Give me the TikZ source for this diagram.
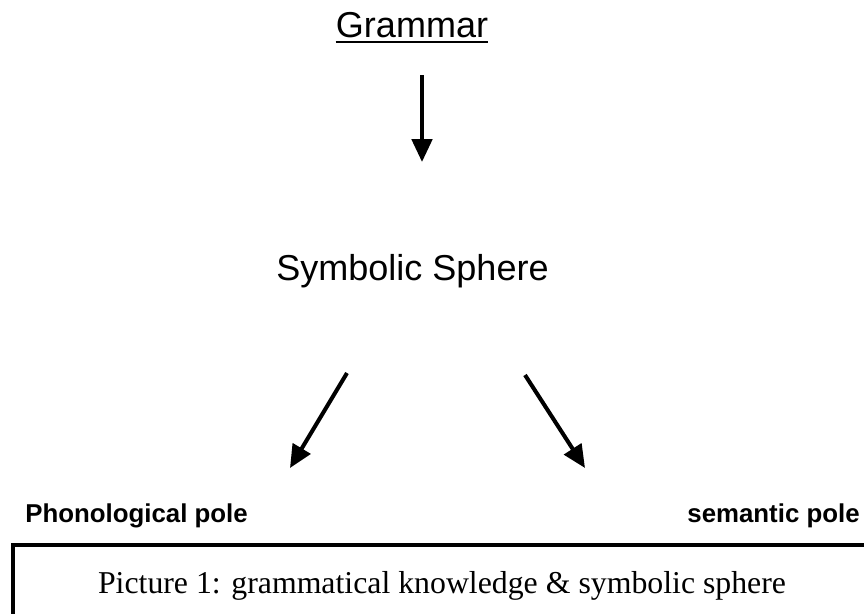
\documentclass[tikz,border=0pt]{standalone}
\usepackage{fontspec}
\setmainfont{Liberation Serif}
\setsansfont{Liberation Sans}
\usetikzlibrary{arrows.meta}

\begin{document}
\begin{tikzpicture}[
        x=0.02cm, y=-0.02cm,
        title/.style={inner sep=0pt, anchor=base, font=\sffamily\fontsize{20.5}{24}\selectfont},
        pole/.style={inner sep=0pt, font=\sffamily\bfseries\fontsize{14.7}{18}\selectfont},
        caption/.style={inner sep=0pt, anchor=base, font=\rmfamily\fontsize{18.1}{22}\selectfont},
        arrow/.style={-{Triangle[length=13pt, width=11.5pt]}, line width=2.3pt},
        frame/.style={draw, line width=2.8pt}
    ]
        \useasboundingbox (0,0) rectangle (864,613);
        \clip (0,0) rectangle (864,613);

        % Top level
        \node[title] (grammar) at (412,37) {Grammar};
        \draw[line width=1.1pt] ([yshift=-2.8pt]grammar.base west) -- ([yshift=-2.8pt]grammar.base east);

        % Middle level
        \node[title] (sphere) at (412.5,280) {Symbolic Sphere};

        % The two poles
        \node[pole, anchor=base west] (phon) at (25,522) {Phonological pole};
        \node[pole, anchor=base east] (sem) at (860,522) {semantic pole};

        % Arrow end points
        \coordinate (gtop) at (422,75);
        \coordinate (gtip) at (422,162);
        \coordinate (ltop) at (347,373);
        \coordinate (ltip) at (290,468);
        \coordinate (rtop) at (525,375);
        \coordinate (rtip) at (585,468);

        \draw[arrow] (gtop) -- (gtip);
        \draw[arrow] (ltop) -- (ltip);
        \draw[arrow] (rtop) -- (rtip);

        % Caption frame
        \draw[frame] (13,545) rectangle (900,660);
        \node[caption] (caption) at (442,593) {Picture 1: grammatical knowledge \& symbolic sphere};
\end{tikzpicture}
\end{document}
